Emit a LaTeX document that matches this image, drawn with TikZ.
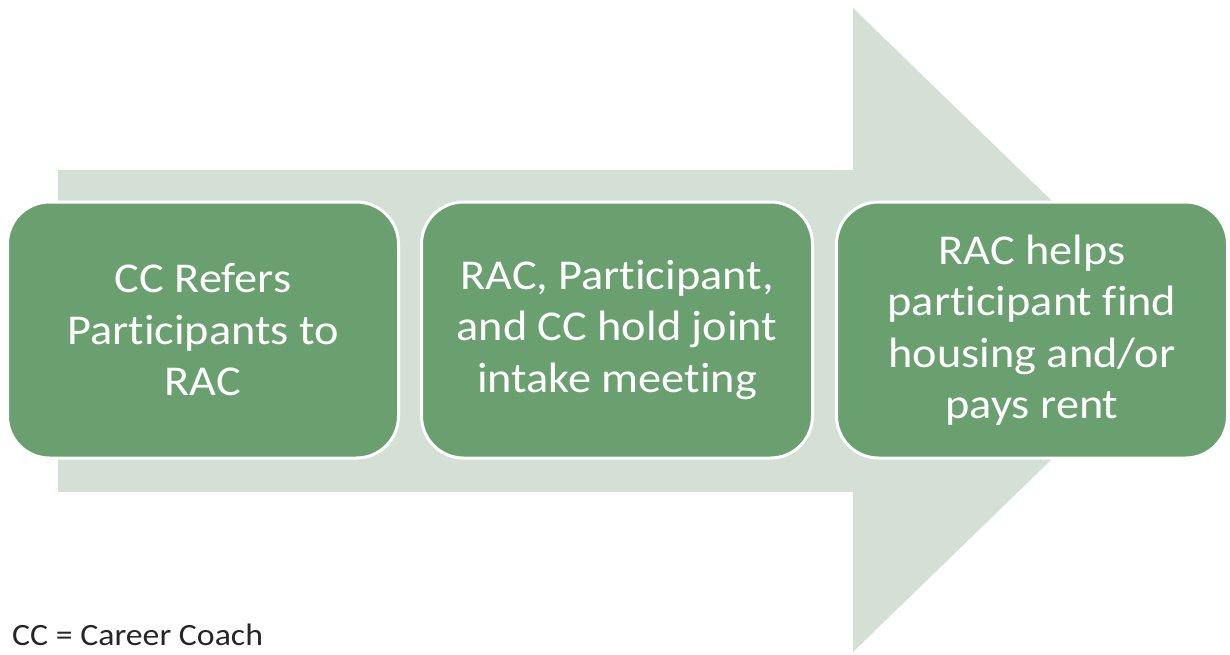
\documentclass[tikz,border=0pt]{standalone}
\usepackage{fontspec}
\setmainfont{Carlito}[FakeStretch=1.09,Ligatures=NoCommon]
\definecolor{boxgreen}{HTML}{6AA06F}
\definecolor{arrowgreen}{HTML}{D4E0D5}
\begin{document}
\begin{tikzpicture}[x=1pt,y=-1pt,
  stepbox/.style={draw=white,line width=3pt,fill=boxgreen,rounded corners=42pt,
    minimum width=391pt,minimum height=256pt,text=white,align=center,
    font=\fontsize{42.5}{51.5}\selectfont,inner sep=0pt}]
\useasboundingbox (0,0) rectangle (1230,654);
\fill[arrowgreen] (58,170) -- (853,170) -- (853,8) -- (1185,330) -- (853,652) -- (853,492) -- (58,492) -- cycle;
\node[stepbox] (b1) at (203,330) {CC Refers\\Participants to\\RAC};
\node[stepbox] (b2) at (617,330) {RAC, Participant,\\and CC hold joint\\intake meeting};
\node[stepbox] (b3) at (1032,330) {RAC helps\\participant find\\housing and/or\\pays rent};
\node[anchor=base west,inner sep=0pt,font=\fontsize{31}{37}\selectfont,text=black!85] (note) at (12,645) {CC = Career Coach};
\end{tikzpicture}
\end{document}
